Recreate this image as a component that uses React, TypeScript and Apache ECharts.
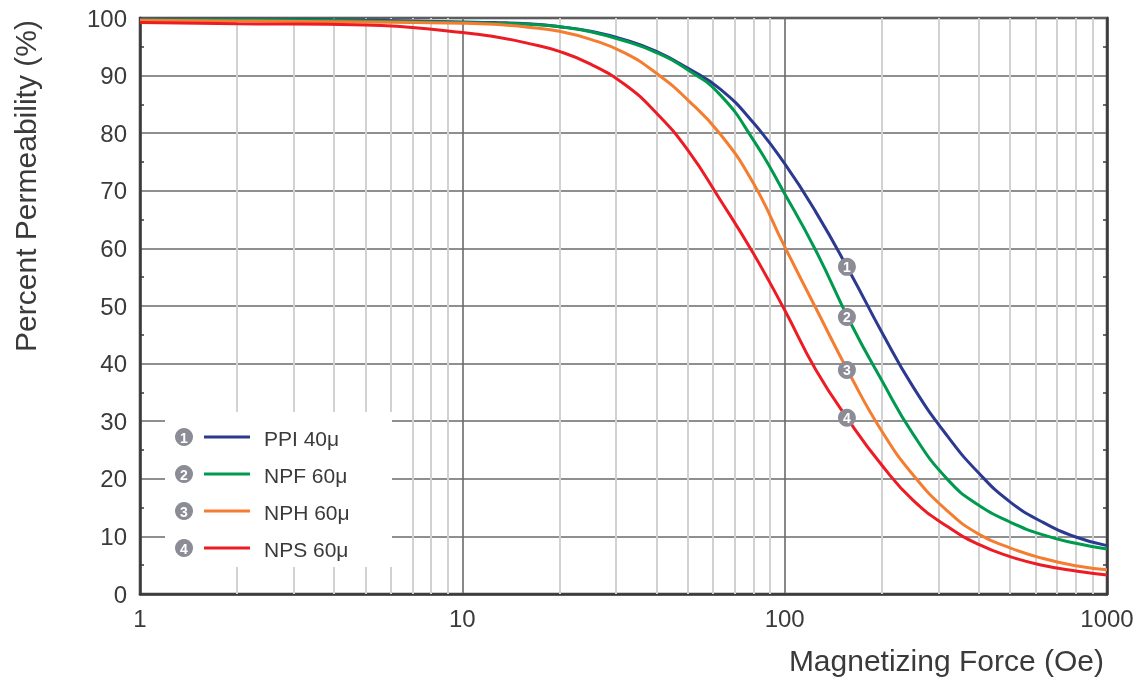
import React, { useEffect, useRef } from "react";
import * as echarts from "echarts";

const xValues = [1, 2, 5, 10, 12.5, 16, 20, 25, 32, 40, 50, 63, 80, 100, 125, 160, 200, 250, 320, 400, 500, 630, 800, 1000];
const ppi40 = [99.8, 99.8, 99.6, 99.3, 99.2, 99.0, 98.5, 97.7, 96.2, 94.2, 91.3, 87.7, 81.8, 74.7, 66.3, 55.7, 45.5, 36.0, 27.4, 21.0, 16.0, 12.5, 9.9, 8.4];
const npf60 = [99.7, 99.7, 99.5, 99.2, 99.1, 98.9, 98.5, 97.6, 96.0, 94.0, 91.0, 86.7, 78.8, 69.5, 59.6, 47.1, 37.1, 27.8, 19.9, 15.4, 12.5, 10.3, 8.8, 7.8];
const nph60 = [99.6, 99.5, 99.3, 99.1, 98.9, 98.4, 97.7, 96.3, 93.9, 90.4, 85.8, 79.9, 71.3, 60.3, 49.6, 37.9, 28.3, 20.7, 14.4, 10.4, 8.0, 6.2, 4.9, 4.2];
const nps60 = [99.2, 99.0, 98.8, 97.5, 96.8, 95.6, 94.2, 92.0, 88.4, 83.5, 77.1, 68.5, 59.1, 49.3, 38.9, 29.7, 22.4, 16.3, 11.7, 8.6, 6.5, 5.0, 4.0, 3.3];

const seriesNames = ["PPI 40\u03bc", "NPF 60\u03bc", "NPH 60\u03bc", "NPS 60\u03bc"];
const seriesColors = ["#2b3990", "#009a4e", "#f47d30", "#ed1c24"];
const markerLabels = ["1", "2", "3", "4"];
const markerX = 156;
const markerY = [56.8, 48.1, 38.9, 30.6];
const minorX = [2, 3, 4, 5, 6, 7, 8, 9, 20, 30, 40, 50, 60, 70, 80, 90, 200, 300, 400, 500, 600, 700, 800, 900];
const yTicks = { min: 0, max: 100, interval: 10 };

const FONT = '"Liberation Sans", Arial, Helvetica, sans-serif';
const TEXT = "#3a3a3a";

export default function App() {
  const ref = useRef<HTMLDivElement>(null);
  useEffect(() => {
    if (!ref.current) return;
    const chart = echarts.init(ref.current, undefined, { renderer: "svg" });
    const allData = [ppi40, npf60, nph60, nps60];
    const lineSeries = allData.map((arr, i) => ({
      name: seriesNames[i],
      type: "line",
      data: xValues.map((x, j) => [x, arr[j]]),
      smooth: 0.5,
      showSymbol: false,
      z: 5,
      lineStyle: { color: seriesColors[i], width: 3 },
      itemStyle: { color: seriesColors[i] },
    }));
    const legendRowY = [437, 474, 511, 548];
    const legendGraphics: any[] = [
      { type: "rect", shape: { x: 165, y: 412, width: 227, height: 155 }, style: { fill: "#ffffff" }, z: 50 },
    ];
    legendRowY.forEach((y, i) => {
      legendGraphics.push({ type: "circle", shape: { cx: 184, cy: y, r: 9 }, style: { fill: "#8c8c96" }, z: 51 });
      legendGraphics.push({
        type: "text", x: 184, y: y + 1, z: 52,
        style: { text: markerLabels[i], fill: "#ffffff", font: `bold 14px ${FONT}`, textAlign: "center", textVerticalAlign: "middle" },
      });
      legendGraphics.push({ type: "line", shape: { x1: 204, y1: y, x2: 250, y2: y }, style: { stroke: seriesColors[i], lineWidth: 3 }, z: 51 });
      legendGraphics.push({
        type: "text", x: 264, y: y + 1, z: 52,
        style: { text: seriesNames[i], fill: TEXT, font: `21px ${FONT}`, textAlign: "left", textVerticalAlign: "middle" },
      });
    });
    chart.setOption({
      animation: false,
      grid: { left: 140, right: 38, top: 18, bottom: 88, show: true, borderColor: "#3a3a3a", borderWidth: 2.5, backgroundColor: "transparent" },
      xAxis: {
        type: "log",
        logBase: 10,
        min: 1,
        max: 1000,
        axisLine: { show: true, lineStyle: { color: "#3a3a3a", width: 2.5 } },
        axisTick: { show: false },
        axisLabel: { color: TEXT, fontSize: 24, fontFamily: FONT, margin: 12, formatter: (v: number) => String(Math.round(v)) },
        splitLine: { show: true, lineStyle: { color: "#6a6a6a", width: 1.6 } },
      },
      yAxis: [
        {
          type: "value",
          min: yTicks.min,
          max: yTicks.max,
          interval: yTicks.interval,
          axisLine: { show: true, lineStyle: { color: "#3a3a3a", width: 2.5 } },
          axisTick: { show: false, inside: true },
          minorTick: { show: true, splitNumber: 2, length: 4, lineStyle: { color: "#3a3a3a", width: 1.5 } },
          axisLabel: { color: TEXT, fontSize: 24, fontFamily: FONT, margin: 13 },
          splitLine: { show: true, lineStyle: { color: "#6a6a6a", width: 1.6 } },
        },
        {
          type: "value",
          position: "right",
          min: yTicks.min,
          max: yTicks.max,
          interval: yTicks.interval,
          axisLine: { show: true, lineStyle: { color: "#3a3a3a", width: 2.5 } },
          axisTick: { show: false, inside: true },
          minorTick: { show: true, splitNumber: 2, length: 4, lineStyle: { color: "#3a3a3a", width: 1.5 } },
          axisLabel: { show: false },
          splitLine: { show: false },
        },
      ],
      series: [
        {
          name: "minor",
          type: "line",
          data: [],
          z: 1,
          silent: true,
          markLine: {
            silent: true,
            symbol: "none",
            label: { show: false },
            lineStyle: { color: "#d2d2d2", width: 2, type: "solid" },
            data: minorX.map((x) => ({ xAxis: x })),
          },
        },
        ...lineSeries,
        {
          name: "markers",
          type: "scatter",
          z: 8,
          symbol: "circle",
          symbolSize: 18,
          itemStyle: { color: "#8c8c96", opacity: 1 },
          label: { show: true, position: "inside", color: "#ffffff", fontSize: 14, fontWeight: "bold", fontFamily: FONT, formatter: (p: any) => markerLabels[p.dataIndex] },
          data: markerY.map((y) => [markerX, y]),
        },
      ],
      graphic: [
        ...legendGraphics,
        {
          type: "text", x: 25, y: 186, rotation: Math.PI / 2, z: 60,
          style: { text: "Percent Permeability (%)", fill: TEXT, font: `30px ${FONT}`, textAlign: "center", textVerticalAlign: "middle" },
        },
        {
          type: "text", x: 1104, y: 660, z: 60,
          style: { text: "Magnetizing Force (Oe)", fill: TEXT, font: `30px ${FONT}`, textAlign: "right", textVerticalAlign: "middle" },
        },
      ],
    });
    return () => chart.dispose();
  }, []);
  return <div ref={ref} style={{ position: "fixed", left: 0, top: 0, width: 1145, height: 682 }} />;
}
